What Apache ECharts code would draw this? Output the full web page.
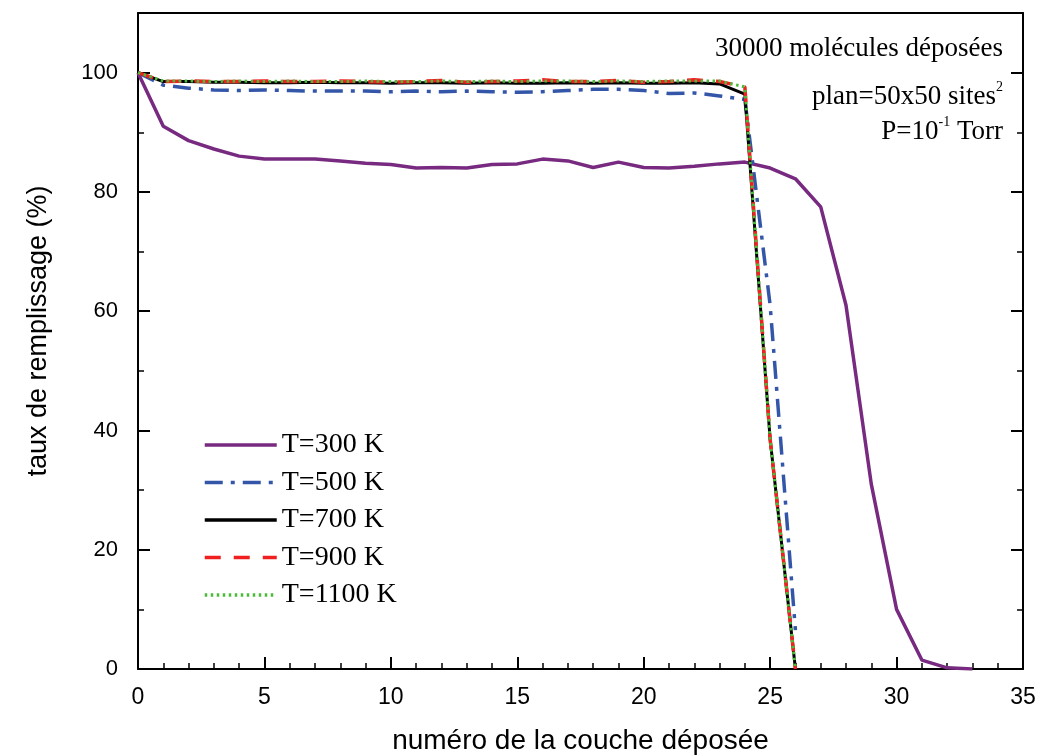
<!DOCTYPE html>
<html>
<head>
<meta charset="utf-8">
<script src="https://cdn.jsdelivr.net/npm/echarts@6/dist/echarts.min.js"></script>
<style>
html,body{margin:0;padding:0;background:#fff;}
#chart{width:1039px;height:756px;}
</style>
</head>
<body>
<div id="chart"></div>
<script>
// ---- data ----
const layers300 = [0,1,2,3,4,5,6,7,8,9,10,11,12,13,14,15,16,17,18,19,20,21,22,23,24,25,26,27,28,29,30,31,32,33];
const layers = [0,1,2,3,4,5,6,7,8,9,10,11,12,13,14,15,16,17,18,19,20,21,22,23,24,25,26];
const t300 = [100,91,88.6,87.2,86.0,85.5,85.5,85.5,85.2,84.8,84.6,84.0,84.1,84.0,84.6,84.7,85.5,85.2,84.1,85.0,84.1,84.0,84.3,84.7,85.0,84.0,82.2,77.5,61,31,10,1.5,0.2,0];
const t500 = [100,97.9,97.4,97.1,97.0,97.1,97.0,96.9,96.9,96.9,96.8,96.9,96.8,96.9,96.8,96.7,96.8,97.0,97.2,97.2,97.0,96.5,96.6,96.1,95.5,61,6.5];
const t700 = [100,98.5,98.5,98.4,98.4,98.3,98.3,98.4,98.3,98.3,98.2,98.3,98.3,98.2,98.3,98.2,98.2,98.3,98.2,98.3,98.2,98.2,98.3,98.1,96.4,38.5,0];
const t900 = [100,98.5,98.6,98.5,98.5,98.6,98.5,98.5,98.6,98.5,98.4,98.5,98.7,98.4,98.5,98.6,98.8,98.5,98.5,98.7,98.4,98.5,98.8,98.5,97.6,38.5,0];
const t1100 = [100,98.6,98.6,98.5,98.6,98.5,98.6,98.5,98.5,98.6,98.5,98.5,98.6,98.5,98.6,98.5,98.6,98.6,98.5,98.6,98.5,98.6,98.6,98.6,97.6,38.5,0];
const seriesNames = ['T=300 K','T=500 K','T=700 K','T=900 K','T=1100 K'];
const xTicks = {min:0, max:35, interval:5};
const yTicks = {min:0, max:110, interval:20};
const xTitle = 'numéro de la couche déposée';
const yTitle = 'taux de remplissage (%)';
const noteLines = ['30000 molécules déposées','plan=50x50 sites','P=10',' Torr'];

function pairs(xs, ys){ return xs.map((x,i)=>[x, ys[i]]); }

const chart = echarts.init(document.getElementById('chart'), null, {renderer:'canvas'});
const axisCommon = {
  axisLine:{show:true, onZero:false, lineStyle:{color:'#000', width:2}},
  axisTick:{show:true, inside:true, length:12, lineStyle:{color:'#000', width:2}},
  splitLine:{show:false}
};
const sansFont = '"Liberation Sans", Arial, sans-serif';
const serifFont = '"Liberation Serif", "Times New Roman", serif';
const rich = {
  n:{fontSize:27, fontFamily:serifFont, color:'#000', lineHeight:30, verticalAlign:'bottom'},
  s:{fontSize:14, fontFamily:serifFont, color:'#000', lineHeight:30, verticalAlign:'top'}
};

chart.setOption({
  animation:false,
  backgroundColor:'#fff',
  grid:{left:138, right:16, top:13, bottom:87, containLabel:false, outerBoundsMode:'none'},
  xAxis:[
    Object.assign({}, axisCommon, {
      type:'value', position:'bottom', min:xTicks.min, max:xTicks.max, interval:xTicks.interval,
      minorTick:{show:true, splitNumber:5, length:6, lineStyle:{color:'#000', width:1.5}},
      axisLabel:{color:'#000', fontSize:23, fontFamily:sansFont, margin:17},
      name:xTitle, nameLocation:'middle', nameGap:58,
      nameTextStyle:{color:'#000', fontSize:28, fontFamily:sansFont}
    }),
    Object.assign({}, axisCommon, {
      type:'value', position:'top', min:xTicks.min, max:xTicks.max, interval:xTicks.interval,
      axisTick:{show:false}, minorTick:{show:false}, axisLabel:{show:false}
    })
  ],
  yAxis:[
    Object.assign({}, axisCommon, {
      type:'value', position:'left', min:yTicks.min, max:yTicks.max, interval:yTicks.interval,
      minorTick:{show:true, splitNumber:2, length:6, lineStyle:{color:'#000', width:1.5}},
      axisLabel:{color:'#000', fontSize:22, fontFamily:sansFont, margin:20, showMaxLabel:false},
      name:yTitle, nameLocation:'middle', nameGap:86, nameRotate:90,
      nameTextStyle:{color:'#000', fontSize:27, fontFamily:sansFont, padding:[0,0,0,20]}
    }),
    Object.assign({}, axisCommon, {
      type:'value', position:'right', min:yTicks.min, max:yTicks.max, interval:yTicks.interval,
      minorTick:{show:true, splitNumber:2, length:6, lineStyle:{color:'#000', width:1.5}},
      axisLabel:{show:false}
    })
  ],
  legend:{
    orient:'vertical', left:198, top:426, itemWidth:72, itemHeight:14, itemGap:9.5,
    itemStyle:{opacity:0},
    lineStyle:{width:3.5},
    textStyle:{color:'#000', fontSize:28, lineHeight:28, fontFamily:serifFont},
    data:seriesNames
  },
  series:[
    {name:seriesNames[0], type:'line', data:pairs(layers300,t300), symbol:'none', z:2,
     lineStyle:{color:'#772a80', width:3.5, type:'solid'}, itemStyle:{color:'#772a80'}},
    {name:seriesNames[1], type:'line', data:pairs(layers,t500), symbol:'none', z:3,
     lineStyle:{color:'#3456a8', width:3.5, type:[18,8,4,8]}, itemStyle:{color:'#3456a8'}},
    {name:seriesNames[2], type:'line', data:pairs(layers,t700), symbol:'none', z:4,
     lineStyle:{color:'#000', width:3, type:'solid'}, itemStyle:{color:'#000'}},
    {name:seriesNames[3], type:'line', data:pairs(layers,t900), symbol:'none', z:5,
     lineStyle:{color:'#f02020', width:3.5, type:[16,13]}, itemStyle:{color:'#f02020'}},
    {name:seriesNames[4], type:'line', data:pairs(layers,t1100), symbol:'none', z:6,
     lineStyle:{color:'#4cbb3a', width:3, type:[2.5,3.5]}, itemStyle:{color:'#4cbb3a'}}
  ],
  graphic:[
    {type:'text', right:36, top:35, style:{text:'{n|'+noteLines[0]+'}', rich:rich}},
    {type:'text', right:36, top:80, style:{text:'{n|'+noteLines[1]+'}{s|2}', rich:rich}},
    {type:'text', right:36, top:115, style:{text:'{n|'+noteLines[2]+'}{s|-1}{n|'+noteLines[3]+'}', rich:rich}}
  ]
});
</script>
</body>
</html>
